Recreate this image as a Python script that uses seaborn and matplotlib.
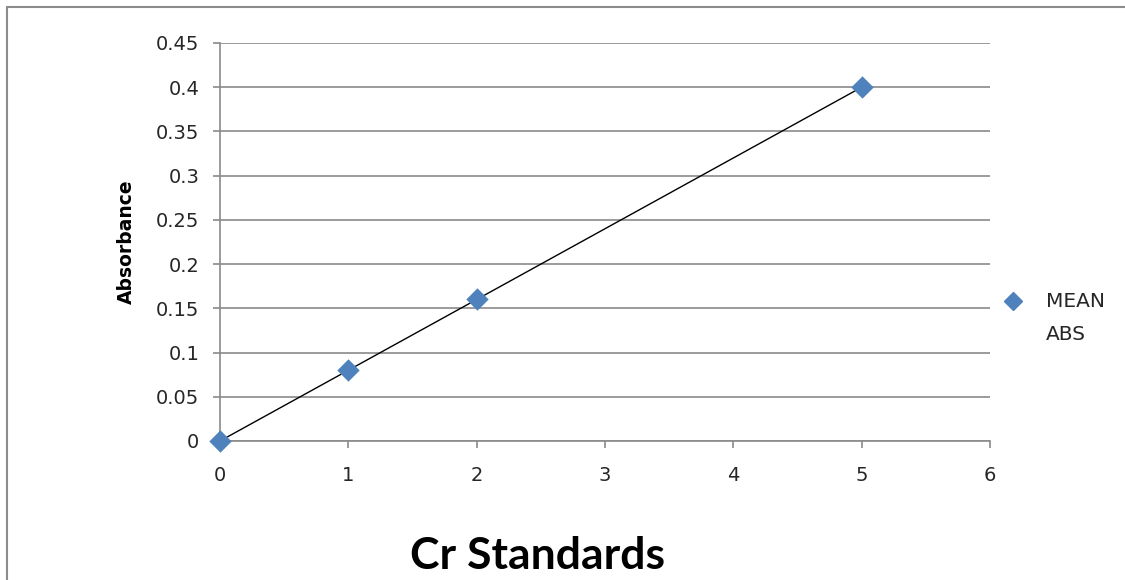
import numpy as np
import pandas as pd
import seaborn as sns
import matplotlib
matplotlib.use("Agg")
import matplotlib.pyplot as plt
from matplotlib.lines import Line2D
from matplotlib.legend_handler import HandlerLine2D

# Calibration standards for chromium
concentration = [0, 1, 2, 5]
mean_abs = [0.0, 0.08, 0.16, 0.40]
series_name = "MEAN\nABS"
x_ticks = [0, 1, 2, 3, 4, 5, 6]
y_ticks = [0, 0.05, 0.1, 0.15, 0.2, 0.25, 0.3, 0.35, 0.4, 0.45]
y_tick_labels = ["0", "0.05", "0.1", "0.15", "0.2", "0.25", "0.3", "0.35", "0.4", "0.45"]

df = pd.DataFrame({"conc": concentration, "abs": mean_abs})

sns.set_theme(style="white")
plt.rcParams["font.family"] = ["DejaVu Sans"]

GRID = "#8a8a8a"
BLUE = "#4f81bd"
TEXT = "#262626"

fig = plt.figure(figsize=(11.25, 5.8), dpi=100)
ax = fig.add_axes([220 / 1125, 1 - 441 / 580, 770 / 1125, 398 / 580])

# linear trendline through the standards
sns.regplot(data=df, x="conc", y="abs", ax=ax, scatter=False, ci=None,
            line_kws={"color": "black", "lw": 1.0, "zorder": 3})
sns.scatterplot(data=df, x="conc", y="abs", ax=ax, marker="D", s=130,
                color=BLUE, edgecolor=BLUE, linewidth=0, zorder=4,
                clip_on=False, legend=False)

ax.set_xlim(0, 6)
ax.set_ylim(0, 0.45)
ax.set_xticks(x_ticks)
ax.set_yticks(y_ticks)
ax.set_yticklabels(y_tick_labels)
ax.yaxis.grid(True, color=GRID, lw=1.2)
ax.xaxis.grid(False)
for side in ("top", "right"):
    ax.spines[side].set_visible(False)
for side in ("left", "bottom"):
    ax.spines[side].set_color(GRID)
    ax.spines[side].set_linewidth(1.2)

ax.tick_params(axis="both", which="major", direction="out", length=5,
               width=1.2, color=GRID, labelsize=14, labelcolor=TEXT)
ax.tick_params(axis="y", pad=10, left=True)
ax.tick_params(axis="x", pad=13, bottom=True)

ax.set_ylabel("Absorbance", fontsize=13.5, fontweight="bold", color="black")
ax.yaxis.set_label_coords(-0.121, 0.5)
ax.yaxis.label.set_va("center")
ax.set_xlabel("Cr Standards", fontsize=32, fontweight="bold", color="black",
              family=["Lato", "DejaVu Sans"])
ax.xaxis.set_label_coords(0.412, -0.288)
ax.xaxis.label.set_va("center")


class TopAlignedMarker(HandlerLine2D):
    """Place the legend marker level with the first line of a wrapped label."""
    def create_artists(self, legend, orig_handle, xdescent, ydescent,
                       width, height, fontsize, trans):
        artists = super().create_artists(legend, orig_handle, xdescent, ydescent,
                                         width, height, fontsize, trans)
        for a in artists:
            a.set_ydata(np.asarray(a.get_ydata()) + 12.5)
        return artists


handle = Line2D([], [], marker="D", color=BLUE, linestyle="none", markersize=9)
leg = ax.legend([handle], [series_name], loc="upper left",
                bbox_to_anchor=(1003 / 1125, 1 - 292 / 580),
                bbox_transform=fig.transFigure, frameon=False, fontsize=14.5,
                handlelength=1.0, handletextpad=1.15, borderpad=0, borderaxespad=0,
                labelcolor=TEXT, handler_map={Line2D: TopAlignedMarker()})
for t in leg.get_texts():
    t.set_linespacing(1.9)

# outer chart border
fig.add_artist(Line2D([6.5 / 1125, 6.5 / 1125], [0, 1 - 6.5 / 580],
                      transform=fig.transFigure, color="#8c8c8c", lw=1.5))
fig.add_artist(Line2D([6.5 / 1125, 1], [1 - 6.5 / 580, 1 - 6.5 / 580],
                      transform=fig.transFigure, color="#8c8c8c", lw=1.5))

fig.savefig("out.png", dpi=100)
